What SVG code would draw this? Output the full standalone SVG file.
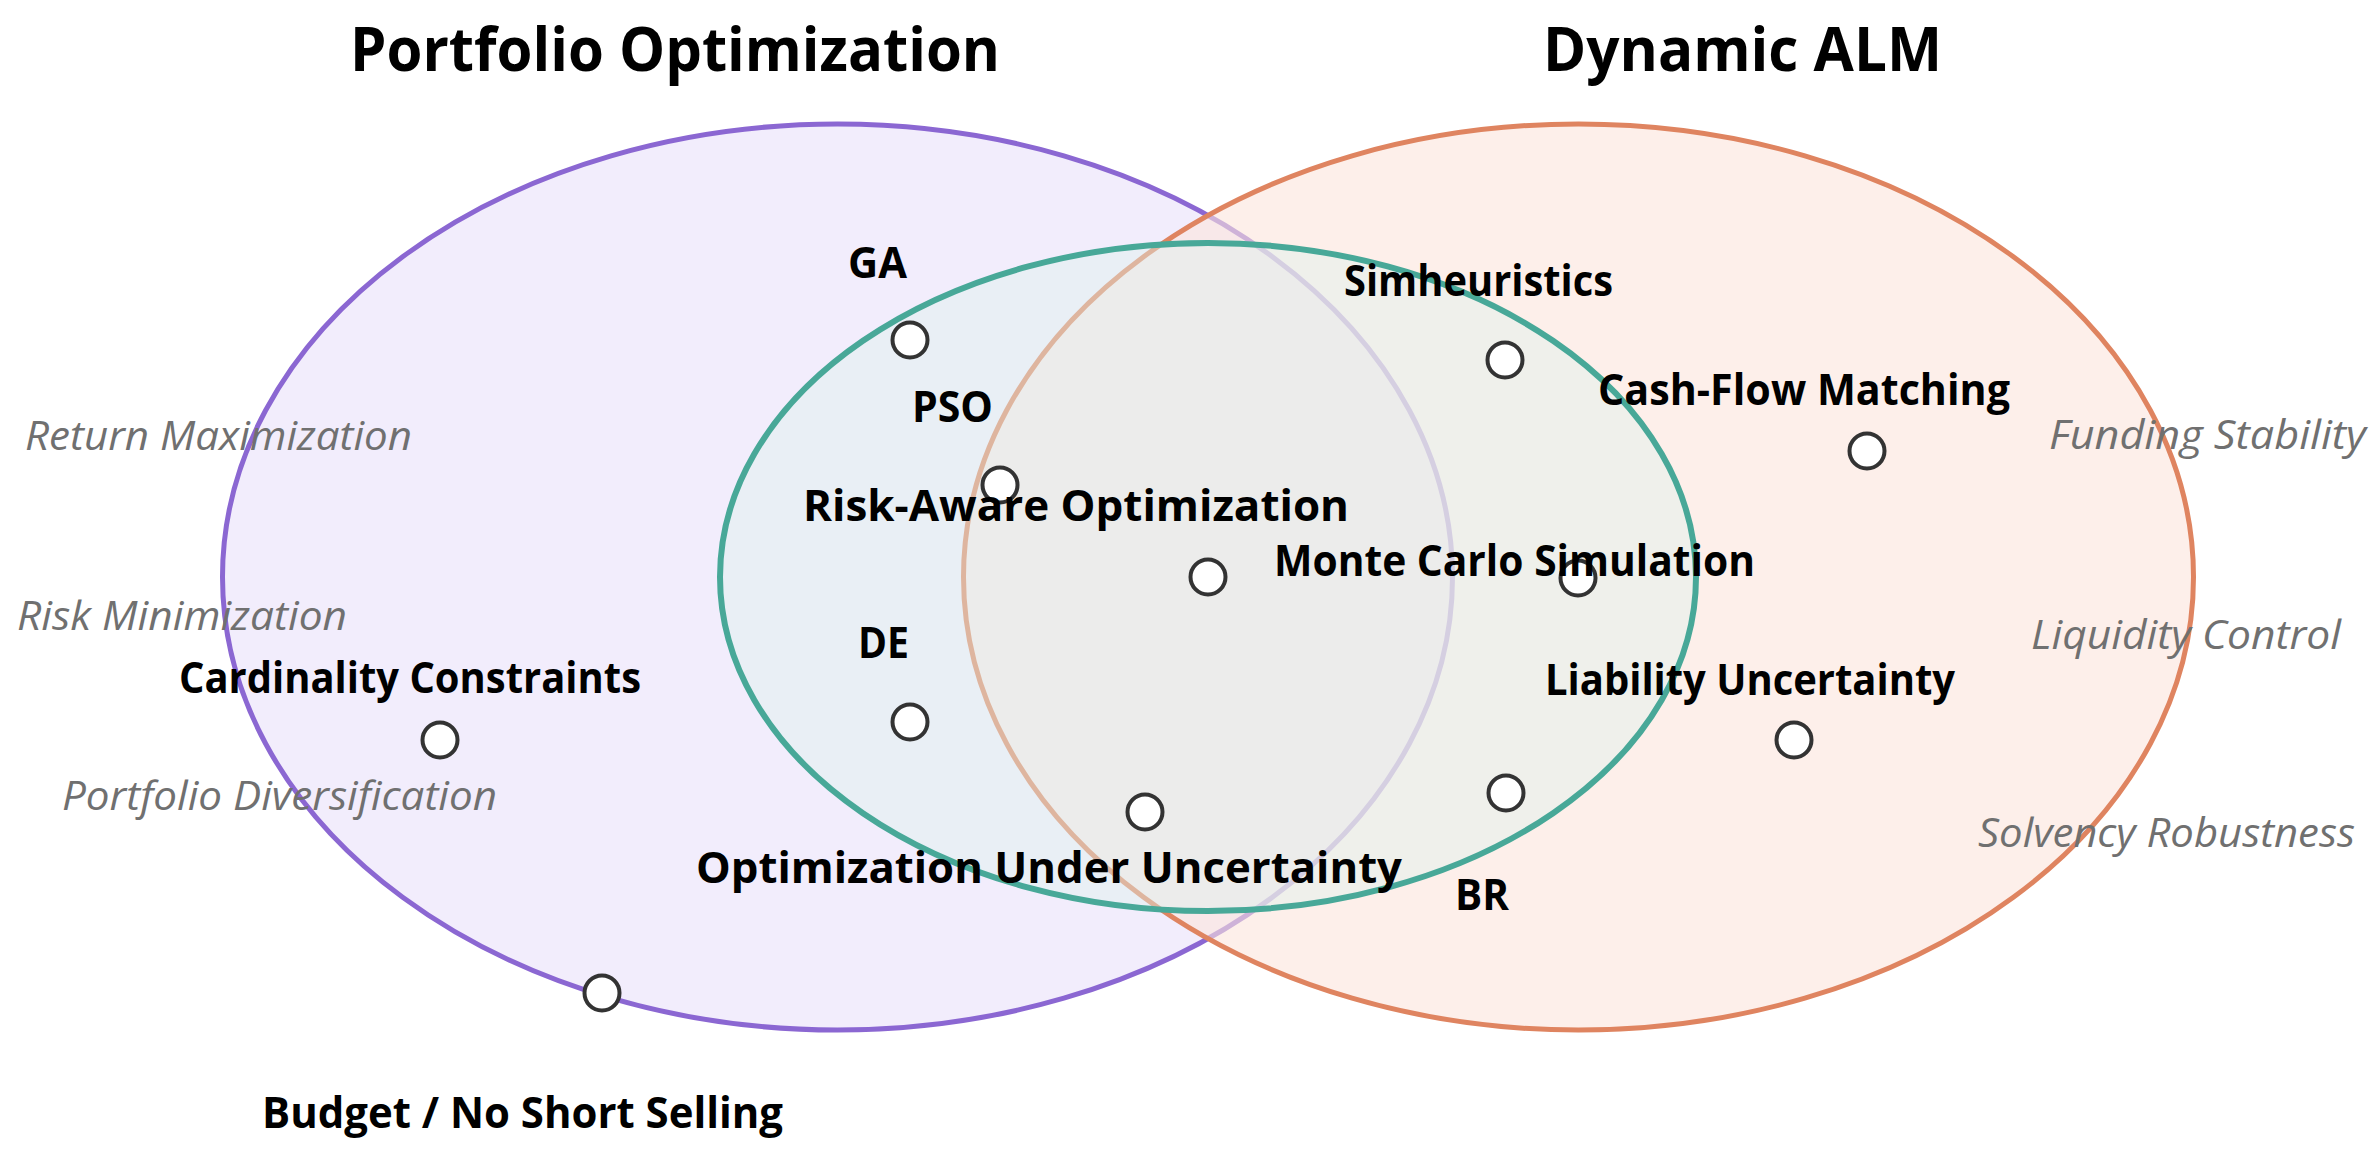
<svg xmlns="http://www.w3.org/2000/svg" width="2379" height="1157" viewBox="0 0 2379 1157">
<style>
.title{font-family:"Open Sans","Noto Sans",sans-serif;font-weight:700;font-size:61px;fill:#000}
.lbl{font-family:"Open Sans","Noto Sans",sans-serif;font-weight:700;font-size:43px;fill:#000}
.aux{font-family:"Open Sans","Noto Sans",sans-serif;font-style:italic;font-weight:400;font-size:40px;fill:#707070}
.pt{fill:#fff;stroke:#333;stroke-width:4}
</style>
<rect width="2379" height="1157" fill="#fff"/>
<g id="sets">
  <ellipse id="set-portfolio" cx="837.5" cy="577" rx="615" ry="453" fill="#f2edfc" stroke="#8b67d2" stroke-width="5"/>
  <ellipse id="set-alm" cx="1578.5" cy="577" rx="615" ry="453" fill="#fbe5dc" fill-opacity="0.6" stroke="#df8460" stroke-width="5"/>
  <ellipse id="set-uncertainty" cx="1208" cy="577" rx="488" ry="334" fill="#def2ee" fill-opacity="0.45" stroke="#48a898" stroke-width="6"/>
</g>
<g id="titles">
  <text class="title" x="350" y="71" textLength="650" lengthAdjust="spacingAndGlyphs">Portfolio Optimization</text>
  <text class="title" x="1543" y="71" textLength="399" lengthAdjust="spacingAndGlyphs">Dynamic ALM</text>
</g>
<g id="aspects">
  <text class="aux" x="25" y="450" textLength="387" lengthAdjust="spacingAndGlyphs">Return Maximization</text>
  <text class="aux" x="17" y="630" textLength="330" lengthAdjust="spacingAndGlyphs">Risk Minimization</text>
  <text class="aux" x="62" y="810" textLength="435" lengthAdjust="spacingAndGlyphs">Portfolio Diversification</text>
  <text class="aux" x="2049" y="449" textLength="317" lengthAdjust="spacingAndGlyphs">Funding Stability</text>
  <text class="aux" x="2031" y="649" textLength="310" lengthAdjust="spacingAndGlyphs">Liquidity Control</text>
  <text class="aux" x="1978" y="847" textLength="377" lengthAdjust="spacingAndGlyphs">Solvency Robustness</text>
</g>
<g id="connectors"></g>
<g id="node-ga">
  <circle class="pt" cx="910" cy="340" r="17.5"/>
  <text class="lbl" x="848" y="278" textLength="59" lengthAdjust="spacingAndGlyphs">GA</text>
</g>
<g id="node-pso">
  <circle class="pt" cx="1000" cy="485" r="17.5"/>
  <text class="lbl" x="912" y="422" textLength="81" lengthAdjust="spacingAndGlyphs">PSO</text>
</g>
<g id="node-risk-aware">
  <circle class="pt" cx="1208" cy="577" r="17.5"/>
  <text class="lbl" x="803" y="521" textLength="546" lengthAdjust="spacingAndGlyphs">Risk-Aware Optimization</text>
</g>
<g id="node-monte-carlo">
  <circle class="pt" cx="1578" cy="578" r="17.5"/>
  <text class="lbl" x="1274" y="576" textLength="481" lengthAdjust="spacingAndGlyphs">Monte Carlo Simulation</text>
</g>
<g id="node-simheuristics">
  <circle class="pt" cx="1505" cy="360" r="17.5"/>
  <text class="lbl" x="1344" y="296" textLength="269" lengthAdjust="spacingAndGlyphs">Simheuristics</text>
</g>
<g id="node-cash-flow">
  <circle class="pt" cx="1867" cy="451" r="17.5"/>
  <text class="lbl" x="1598" y="405" textLength="412" lengthAdjust="spacingAndGlyphs">Cash-Flow Matching</text>
</g>
<g id="node-de">
  <circle class="pt" cx="910" cy="722" r="17.5"/>
  <text class="lbl" x="858" y="658" textLength="51" lengthAdjust="spacingAndGlyphs">DE</text>
</g>
<g id="node-cardinality">
  <circle class="pt" cx="440" cy="740" r="17.5"/>
  <text class="lbl" x="179" y="693" textLength="462" lengthAdjust="spacingAndGlyphs">Cardinality Constraints</text>
</g>
<g id="node-opt-uncertainty">
  <circle class="pt" cx="1145" cy="812" r="17.5"/>
  <text class="lbl" x="696" y="883" textLength="706" lengthAdjust="spacingAndGlyphs">Optimization Under Uncertainty</text>
</g>
<g id="node-br">
  <circle class="pt" cx="1506" cy="793" r="17.5"/>
  <text class="lbl" x="1455" y="910" textLength="54" lengthAdjust="spacingAndGlyphs">BR</text>
</g>
<g id="node-liability">
  <circle class="pt" cx="1794" cy="740" r="17.5"/>
  <text class="lbl" x="1545" y="695" textLength="410" lengthAdjust="spacingAndGlyphs">Liability Uncertainty</text>
</g>
<g id="node-budget">
  <circle class="pt" cx="602" cy="993" r="17.5"/>
  <text class="lbl" x="262" y="1128" textLength="521" lengthAdjust="spacingAndGlyphs">Budget / No Short Selling</text>
</g>
</svg>
